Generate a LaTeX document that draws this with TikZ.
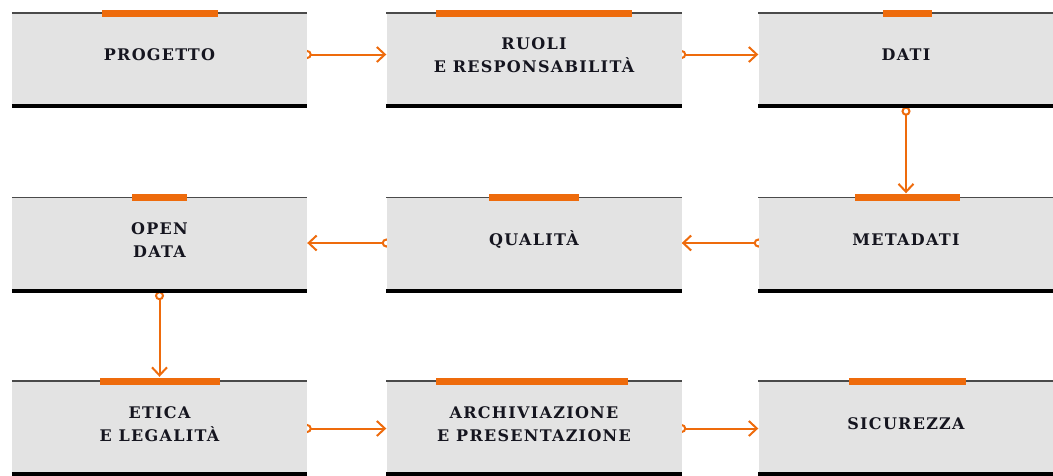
\documentclass[tikz,border=0pt]{standalone}
\usepackage{fontspec}
\newfontfamily\boxfont[LetterSpace=8]{DejaVu Serif}
\usetikzlibrary{arrows.meta}
\definecolor{boxgray}{HTML}{E3E3E3}
\definecolor{accent}{HTML}{EE6B0C}
\definecolor{ink}{HTML}{15151F}
\definecolor{topgray}{HTML}{4A4A4A}
\pgfdeclarelayer{bg}
\pgfsetlayers{bg,main}
\tikzset{
  box/.style={fill=boxgray, draw=none, minimum width=295pt, minimum height=93pt, inner sep=0pt},
  lbl/.style={align=center, text=ink, font=\boxfont\bfseries\fontsize{16}{23.5}\selectfont, inner sep=0pt},
  topline/.style={draw=topgray, line width=1.5pt},
  botline/.style={draw=black, line width=4pt},
  bar/.style={draw=accent, line width=7pt},
  conn/.style={draw=accent, line width=2pt, -{Straight Barb[length=8pt,width=15pt,line width=2pt]}},
  dot/.style={draw=accent, line width=2pt, fill=white}
}
\begin{document}
\begin{tikzpicture}[x=1pt,y=-1pt]
\useasboundingbox (0,0) rectangle (1053,475);
% row 1
\node[box] (b1) at (159.5,59.5) {};
\node[box] (b2) at (534,59.5) {};
\node[box] (b3) at (906,59.5) {};
% row 2
\node[box] (b4) at (159.5,244) {};
\node[box] (b5) at (534,244) {};
\node[box] (b6) at (906,244) {};
% row 3
\node[box] (b7) at (159.5,427.5) {};
\node[box] (b8) at (534,427.5) {};
\node[box] (b9) at (906,427.5) {};
\foreach \b in {b1,b2,b3,b4,b5,b6,b7,b8,b9}{
  \draw[topline] (\b.north west) -- (\b.north east);
  \draw[botline] (\b.south west) -- (\b.south east);
}
% orange bars
\draw[bar] (102,13) -- (218,13);
\draw[bar] (436,13) -- (632,13);
\draw[bar] (883,13) -- (932,13);
\draw[bar] (132,197) -- (187,197);
\draw[bar] (489,197) -- (579,197);
\draw[bar] (855,197) -- (960,197);
\draw[bar] (100,381) -- (220,381);
\draw[bar] (436,381) -- (628,381);
\draw[bar] (849,381) -- (966,381);
% labels
\node[lbl] (t1) at ([yshift=4.5pt]b1.center) {PROGETTO};
\node[lbl] (t2) at ([yshift=4.5pt]b2.center) {RUOLI\\E RESPONSABILITÀ};
\node[lbl] (t3) at ([yshift=4.5pt]b3.center) {DATI};
\node[lbl] (t4) at ([yshift=4pt]b4.center) {OPEN\\DATA};
\node[lbl] (t5) at ([yshift=4pt]b5.center) {QUALITÀ};
\node[lbl] (t6) at ([yshift=4pt]b6.center) {METADATI};
\node[lbl] (t7) at ([yshift=3.5pt]b7.center) {ETICA\\E LEGALITÀ};
\node[lbl] (t8) at ([yshift=3.5pt]b8.center) {ARCHIVIAZIONE\\E PRESENTAZIONE};
\node[lbl] (t9) at ([yshift=3.5pt]b9.center) {SICUREZZA};
% connectors on background layer
\begin{pgfonlayer}{bg}
\draw[conn] ([yshift=5pt]b1.east) -- ([yshift=5pt]b2.west);
\draw[dot] ([yshift=5pt]b1.east) circle (3.5pt);
\draw[conn] ([yshift=5pt]b2.east) -- ([yshift=5pt]b3.west);
\draw[dot] ([yshift=5pt]b2.east) circle (3.5pt);
\coordinate (s3) at ([yshift=-5pt]b3.south);
\coordinate (e6) at ([yshift=4pt]b6.north);
\draw[conn] (s3) -- (e6);
\draw[dot] (s3) circle (3.5pt);
\draw[conn] ([yshift=1pt]b6.west) -- ([yshift=1pt]b5.east);
\draw[dot] ([yshift=1pt]b6.west) circle (3.5pt);
\draw[conn] ([yshift=1pt]b5.west) -- ([yshift=1pt]b4.east);
\draw[dot] ([yshift=1pt]b5.west) circle (3.5pt);
\coordinate (s4) at ([yshift=-5pt]b4.south);
\coordinate (e7) at ([yshift=4pt]b7.north);
\draw[conn] (s4) -- (e7);
\draw[dot] (s4) circle (3.5pt);
\draw[conn] ([yshift=-1pt]b7.east) -- ([yshift=-1pt]b8.west);
\draw[dot] ([yshift=-1pt]b7.east) circle (3.5pt);
\draw[conn] ([yshift=-1pt]b8.east) -- ([yshift=-1pt]b9.west);
\draw[dot] ([yshift=-1pt]b8.east) circle (3.5pt);
\end{pgfonlayer}
\end{tikzpicture}
\end{document}
